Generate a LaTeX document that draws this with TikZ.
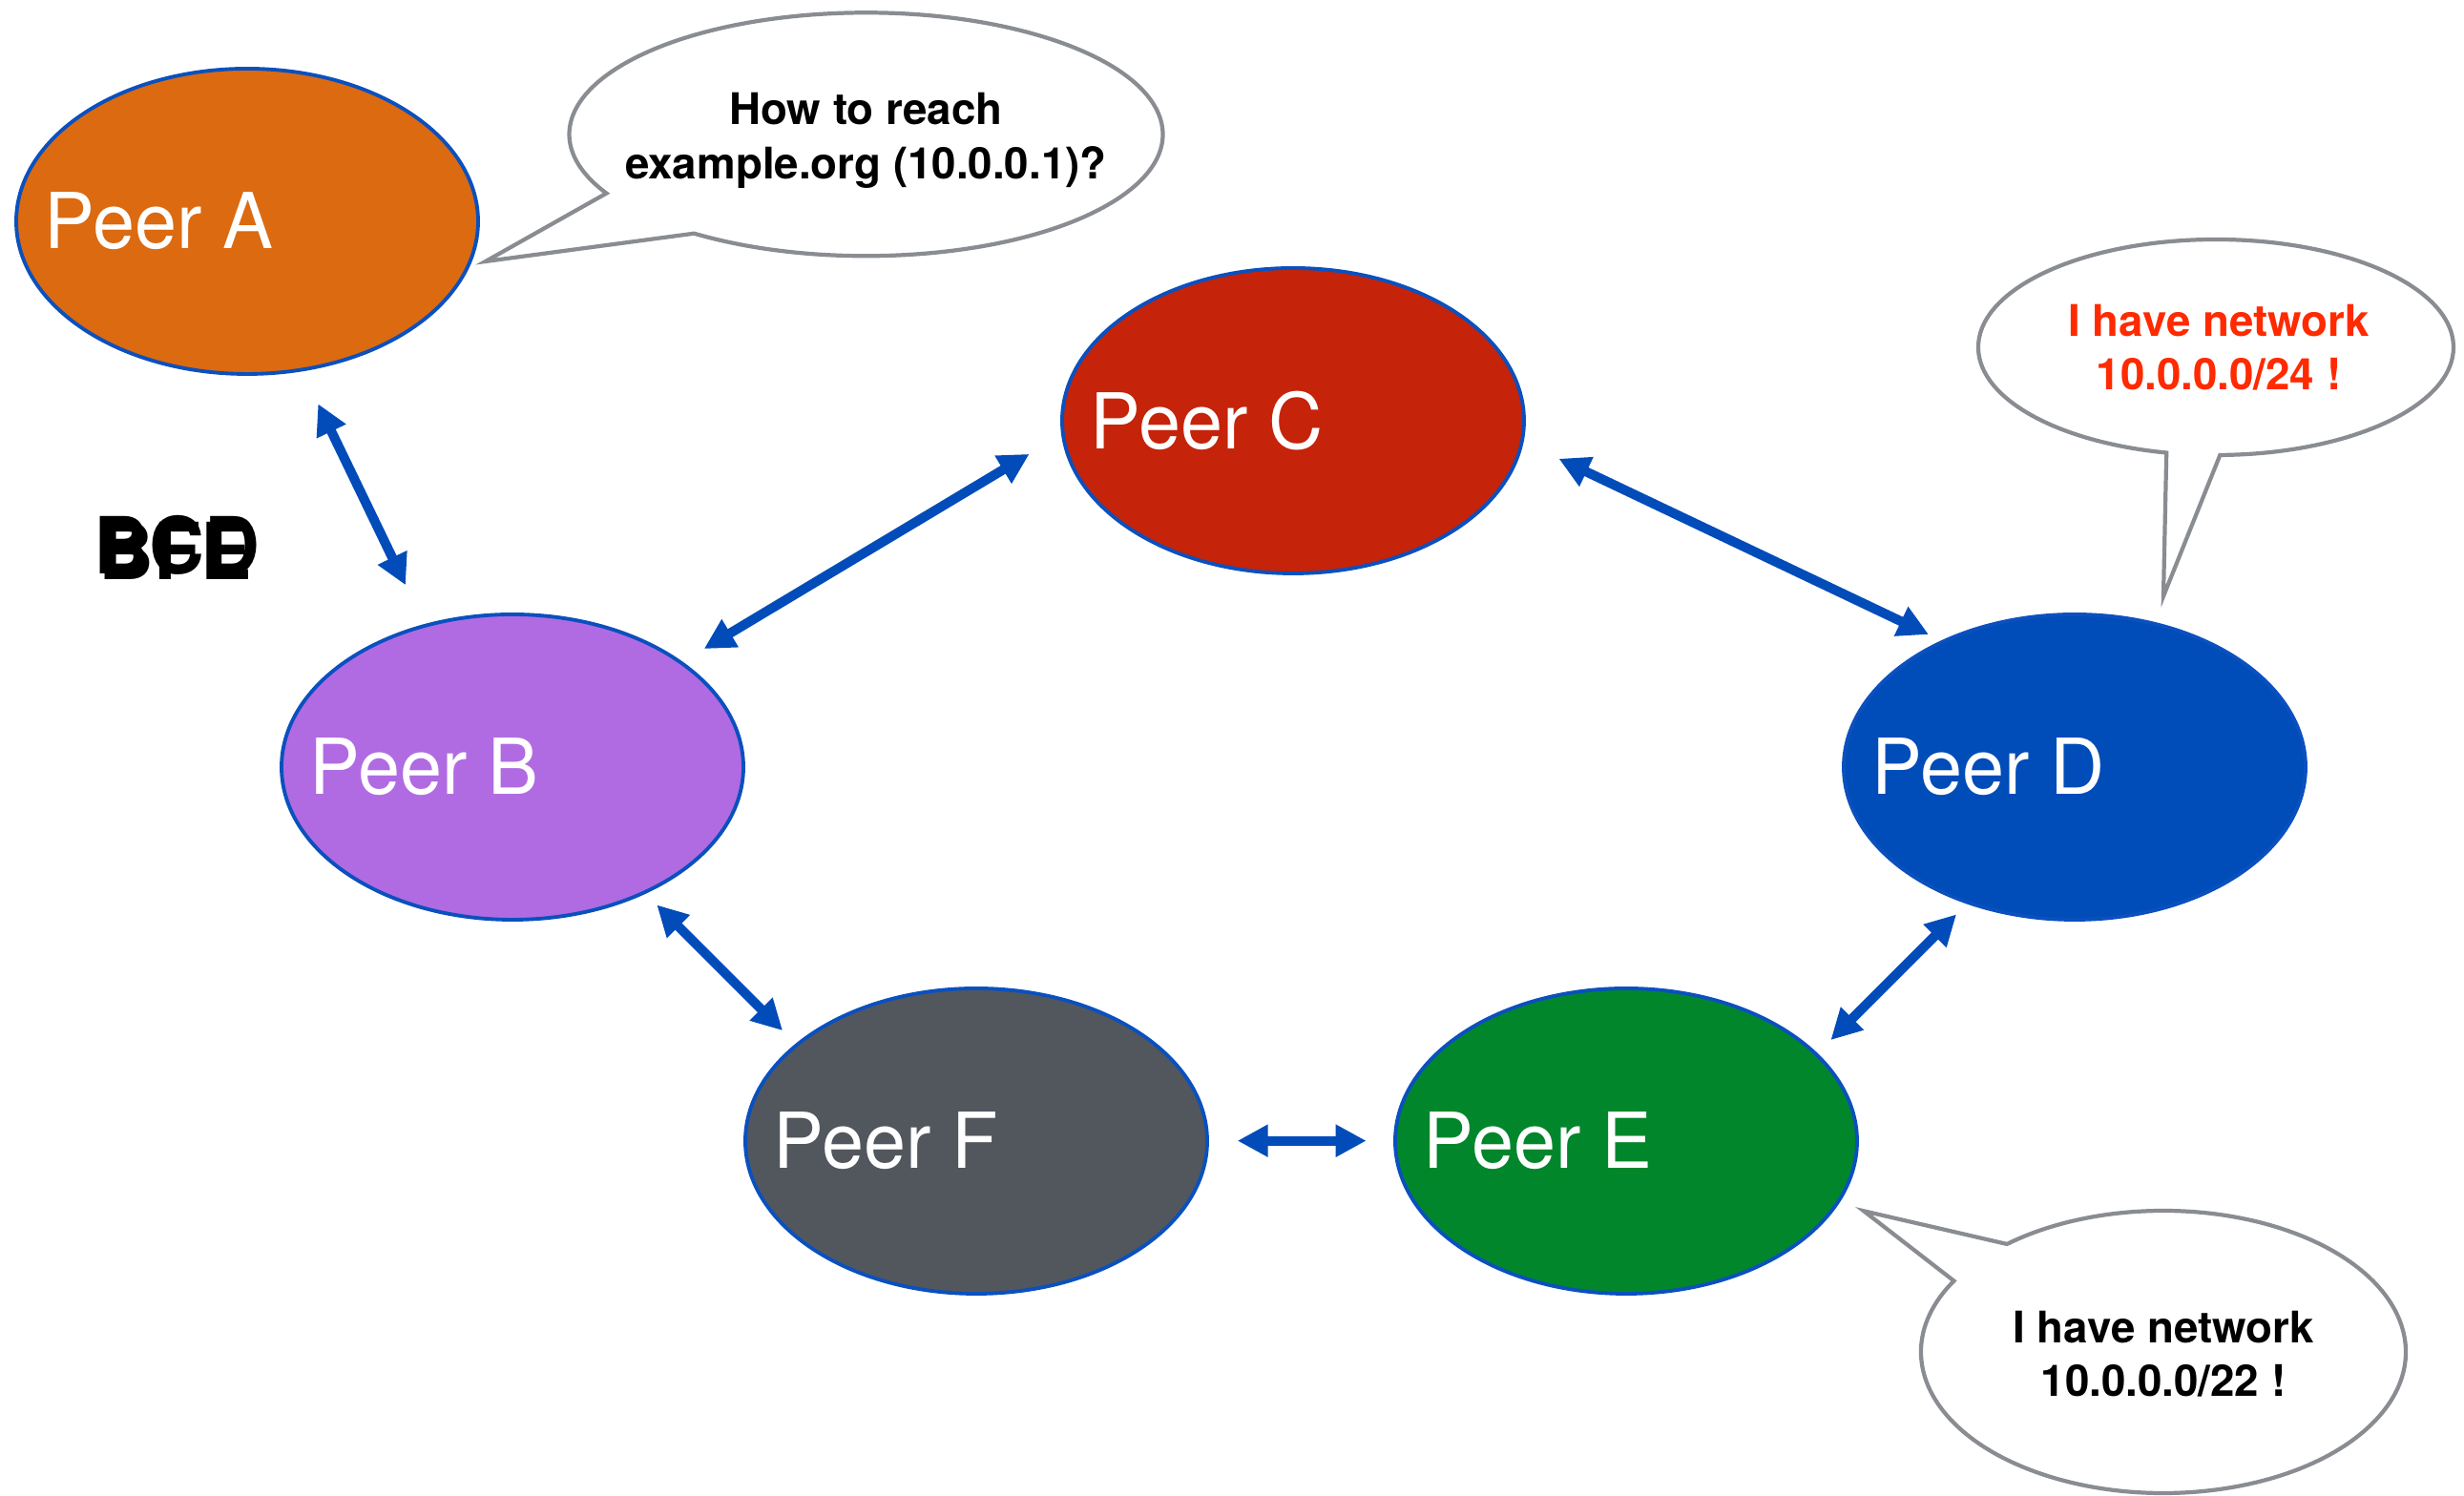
\documentclass[tikz,border=0pt]{standalone}
\usepackage{fontspec}
\setmainfont{TeX Gyre Heros}
\newfontfamily\peerfont{TeX Gyre Heros}[FakeStretch=0.98]
\newfontfamily\stampfont{TeX Gyre Heros}[FakeStretch=0.97]
\usetikzlibrary{shapes.geometric, arrows.meta, calc}

\definecolor{peerAcol}{HTML}{DC6A11}
\definecolor{peerBcol}{HTML}{B06BE2}
\definecolor{peerCcol}{HTML}{C5230A}
\definecolor{peerDcol}{HTML}{004CB8}
\definecolor{peerEcol}{HTML}{02862C}
\definecolor{peerFcol}{HTML}{52575E}
\definecolor{peerrim}{HTML}{0A50BE}
\definecolor{linkblue}{HTML}{024CBA}
\definecolor{bubblegray}{HTML}{898C91}
\definecolor{alertred}{HTML}{FF2A00}

\begin{document}
\begin{tikzpicture}[
  peer/.style={ellipse, draw=peerrim, line width=1.1pt, minimum width=4.84cm,
    minimum height=3.2cm, inner sep=0pt},
  peername/.style={anchor=west, inner sep=0pt, text=white,
    font=\peerfont\fontsize{23}{28}\selectfont},
  link/.style={draw=linkblue, line width=0.1cm,
    {Triangle[length=0.32cm,width=0.32cm]}-{Triangle[length=0.32cm,width=0.32cm]}},
  bubble/.style={draw=bubblegray, fill=white, line width=1.2pt, line join=miter},
  said/.style={align=center, inner sep=0pt,
    font=\bfseries\fontsize{13}{16}\selectfont},
  stamp/.style={anchor=base west, inner sep=0pt,
    font=\stampfont\bfseries\fontsize{23.5}{28}\selectfont},
]
\fill[white] (0,0) rectangle (25.82,15.68);
\useasboundingbox (0,0) rectangle (25.82,15.68);

% peers
\node[peer, fill=peerAcol] (A) at (2.59,13.36) {};
\node[peer, fill=peerCcol] (C) at (13.55,11.27) {};
\node[peer, fill=peerBcol] (B) at (5.37,7.64) {};
\node[peer, fill=peerDcol] (D) at (21.74,7.64) {};
\node[peer, fill=peerFcol] (F) at (10.23,3.72) {};
\node[peer, fill=peerEcol] (E) at (17.04,3.72) {};

\foreach \p in {A,B,C,D,E,F}
  \node[peername] (\p-name) at ($(\p.west)+(0.31,0)$) {Peer \p};

% overprinted stamp
\node[stamp] (stamp1) at (0.98,9.66) {BCD};
\node[stamp] (stamp2) at (1.03,9.60) {BFE};

% links between peers
\coordinate (ab1) at (3.333,11.447);
\coordinate (ab2) at (4.250,9.547);
\coordinate (bc1) at (7.377,8.879);
\coordinate (bc2) at (10.786,10.921);
\coordinate (cd1) at (16.335,10.872);
\coordinate (cd2) at (20.210,9.030);
\coordinate (bf1) at (6.883,6.195);
\coordinate (bf2) at (8.201,4.878);
\coordinate (fe1) at (12.967,3.723);
\coordinate (fe2) at (14.317,3.723);
\coordinate (ed1) at (19.184,4.779);
\coordinate (ed2) at (20.501,6.096);

\draw[link] (ab1) -- (ab2);
\draw[link] (bc1) -- (bc2);
\draw[link] (cd1) -- (cd2);
\draw[link] (bf1) -- (bf2);
\draw[link] (fe1) -- (fe2);
\draw[link] (ed1) -- (ed2);

% speech bubbles
\coordinate (qA) at (9.075,14.272);
\coordinate (qAtip) at (5.088,12.94);
\path[bubble] (qA) ++(234.6:3.11cm and 1.275cm)
  arc[start angle=234.6, end angle=569, x radius=3.11cm, y radius=1.275cm]
  -- (qAtip) -- cycle;
\node[said] (askA) at ($(qA)+(0,-0.065)$) {How to reach\\example.org (10.0.0.1)?};

\coordinate (qD) at (23.22,12.04);
\coordinate (qDtip) at (22.67,9.43);
\path[bubble] (qD) ++(271:2.49cm and 1.13cm)
  arc[start angle=271, end angle=618, x radius=2.49cm, y radius=1.13cm]
  -- (qDtip) -- cycle;
\node[said, text=alertred] (tellD) at ($(qD)+(0.03,0)$) {I have network\\10.0.0.0/24 !};

\coordinate (qE) at (22.67,1.51);
\coordinate (qEtip) at (19.53,2.987);
\path[bubble] (qE) ++(149.8:2.54cm and 1.48cm)
  arc[start angle=149.8, end angle=490.2, x radius=2.54cm, y radius=1.48cm]
  -- (qEtip) -- cycle;
\node[said] (tellE) at ($(qE)+(0,-0.02)$) {I have network\\10.0.0.0/22 !};
\end{tikzpicture}
\end{document}
